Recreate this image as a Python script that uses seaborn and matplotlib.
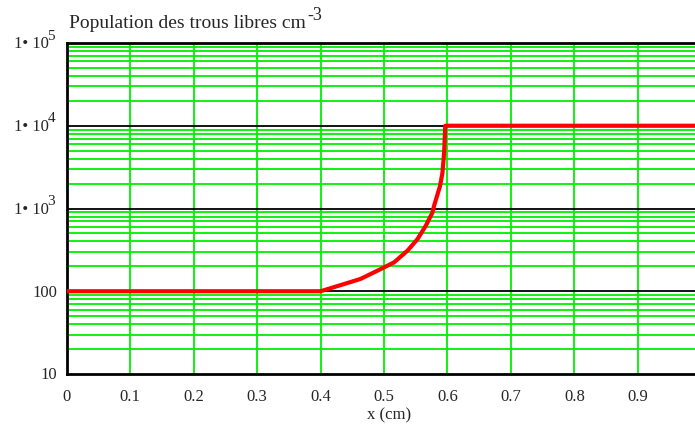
import matplotlib
matplotlib.use("Agg")
import matplotlib.pyplot as plt
import matplotlib.transforms as mtransforms
import seaborn as sns
import numpy as np
import pandas as pd
from matplotlib.ticker import FixedLocator, NullFormatter

# Data
x_cm = [0.0, 0.40, 0.4368, 0.4631, 0.4895, 0.5157, 0.5369, 0.5527, 0.5658, 0.5763,
        0.5789, 0.5883, 0.5921, 0.5947, 0.5962, 0.5965, 0.99]
holes = [100, 100, 122, 141, 177, 223, 309, 426, 619, 895,
         1079, 1877, 2716, 4732, 9020, 10000, 10000]
x_ticks = [0, 0.1, 0.2, 0.3, 0.4, 0.5, 0.6, 0.7, 0.8, 0.9]
x_ticklabels = ["0", "0.1", "0.2", "0.3", "0.4", "0.5", "0.6", "0.7", "0.8", "0.9"]
y_ticks = [10, 100, 1e3, 1e4, 1e5]
y_plain_labels = {10: "10", 100: "100"}
y_exp_labels = {1e3: ("1\u2022 10", "3"), 1e4: ("1\u2022 10", "4"), 1e5: ("1\u2022 10", "5")}
title = "Population des trous libres cm"
title_exp = "-3"
xlabel = "x (cm)"

sns.set_style("white")
plt.rcParams["font.family"] = ["Liberation Serif", "DejaVu Serif"]

df = pd.DataFrame({"x": x_cm, "p": holes})

fig = plt.figure(figsize=(6.95, 4.25), dpi=100)
ax = fig.add_axes([66.7 / 695, 1 - 374 / 425, 1 - 66.7 / 695, (374 - 43) / 425])

ax.set_yscale("log")
ax.set_xlim(0, 0.99)
ax.set_ylim(10, 1e5)

# grid: green minor + verticals, black decades
for v in x_ticks[1:]:
    ax.axvline(v, color="#00f000", lw=1.3, zorder=1)
for d in [10, 100, 1000, 10000]:
    for s in range(2, 10):
        ax.axhline(d * s, color="#00f000", lw=1.3, zorder=1)
for d in [100, 1000, 10000]:
    ax.axhline(d, color="black", lw=1.3, zorder=2)

sns.lineplot(data=df, x="x", y="p", color="red", lw=3, ax=ax, zorder=5, sort=False)

ax.set_xticks(x_ticks)
ax.set_xticklabels(x_ticklabels, fontsize=12)
ax.yaxis.set_major_locator(FixedLocator(y_ticks))
ax.yaxis.set_minor_formatter(NullFormatter())
ax.yaxis.set_major_formatter(NullFormatter())
ax.tick_params(axis="both", which="both", length=0)
ax.tick_params(axis="x", pad=11)

# y tick labels (with full-size raised exponents as in the reference)
trans = mtransforms.blended_transform_factory(ax.transAxes, ax.transData)
for v, lab in y_plain_labels.items():
    ax.annotate(lab, xy=(0, v), xycoords=trans, xytext=(-7, -1), textcoords="offset points",
                ha="right", va="center", fontsize=12)
for v, (base, ex) in y_exp_labels.items():
    ax.annotate(base, xy=(0, v), xycoords=trans, xytext=(-13, -1), textcoords="offset points",
                ha="right", va="center", fontsize=12)
    ax.annotate(ex, xy=(0, v), xycoords=trans, xytext=(-14, 5), textcoords="offset points",
                ha="left", va="center", fontsize=11)

ax.set_xlabel(xlabel, fontsize=12, labelpad=0)
ax.xaxis.set_label_coords((389 - 66.7) / (695 - 66.7), -(407.5 - 374) / 331)
ax.set_ylabel("")

t = fig.text(69 / 695, 1 - 23 / 425, title, fontsize=14, ha="left", va="center")
fig.canvas.draw()
bb = t.get_window_extent()
fig.text(bb.x1 / 695 + 1.5 / 695, 1 - 15 / 425, title_exp, fontsize=13, ha="left", va="center")

for side in ["left", "bottom", "top"]:
    ax.spines[side].set_visible(True)
    ax.spines[side].set_color("black")
    ax.spines[side].set_linewidth(2)
ax.spines["right"].set_visible(False)

fig.savefig("out.png", dpi=100)
